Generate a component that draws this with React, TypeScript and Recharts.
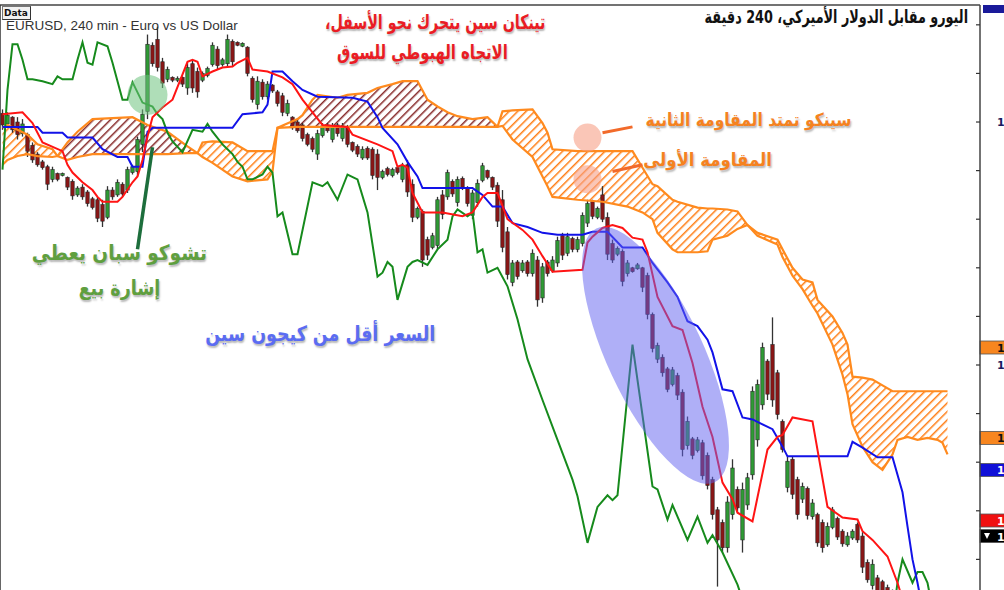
import React from 'react';
import { ComposedChart, Line, Area, Bar, XAxis, YAxis, ReferenceLine, ReferenceDot } from 'recharts';

// EURUSD 240 min. Prices in points (price * 10000).
const N_BARS = 196;
const Y_MIN = 13268.5;
const Y_MAX = 13870.4;
const Y_TICKS = [13300, 13350, 13400, 13450, 13500, 13550, 13600, 13650, 13700, 13750, 13800, 13850];
const Y_LABELED = [13500, 13750];

// [open, high, low, close] per bar
const CANDLES: number[][] = [
  [13759,13763,13742,13747],[13748,13760,13745,13757],[13755,13756,13739,13742],[13750,13755,13732,13737],
  [13738,13753,13735,13748],[13737,13739,13714,13720],[13726,13729,13708,13711],[13717,13719,13704,13706],
  [13709,13711,13701,13703],[13704,13706,13680,13686],[13691,13704,13688,13701],[13697,13698,13689,13691],
  [13695,13698,13694,13697],[13693,13694,13680,13683],[13689,13691,13670,13674],[13675,13684,13673,13682],
  [13683,13686,13670,13673],[13678,13680,13663,13666],[13671,13673,13660,13662],[13670,13673,13647,13651],
  [13665,13670,13642,13648],[13652,13684,13650,13680],[13680,13683,13670,13673],[13675,13691,13673,13688],
  [13686,13688,13673,13676],[13680,13704,13677,13701],[13698,13706,13696,13704],[13699,13735,13694,13732],
  [13727,13763,13719,13758],[13761,13840,13753,13830],[13829,13832,13807,13810],[13835,13848,13802,13806],
  [13812,13816,13785,13790],[13794,13807,13791,13804],[13796,13797,13791,13793],[13793,13797,13791,13795],
  [13796,13797,13786,13789],[13785,13811,13778,13806],[13810,13814,13780,13785],[13802,13806,13775,13781],
  [13793,13802,13791,13800],[13798,13807,13796,13805],[13809,13832,13807,13829],[13825,13828,13804,13808],
  [13809,13816,13807,13814],[13810,13840,13806,13835],[13833,13835,13807,13812],[13832,13833,13828,13829],
  [13828,13832,13827,13831],[13827,13828,13797,13800],[13795,13797,13770,13773],[13768,13797,13763,13792],
  [13791,13794,13773,13776],[13776,13792,13773,13789],[13788,13789,13780,13782],[13781,13783,13766,13769],
  [13777,13780,13756,13760],[13759,13773,13756,13769],[13755,13756,13742,13744],[13750,13753,13739,13741],
  [13747,13749,13730,13733],[13737,13739,13725,13727],[13733,13735,13719,13722],[13717,13742,13711,13738],
  [13736,13749,13734,13746],[13747,13749,13739,13741],[13732,13749,13729,13745],[13747,13749,13735,13738],
  [13733,13749,13730,13746],[13745,13747,13724,13727],[13729,13730,13719,13721],[13725,13727,13714,13717],
  [13713,13725,13711,13722],[13723,13725,13711,13713],[13722,13724,13691,13695],[13717,13722,13680,13693],
  [13693,13701,13691,13699],[13702,13704,13694,13696],[13695,13703,13693,13701],[13703,13704,13696,13698],
  [13691,13708,13688,13705],[13706,13711,13673,13678],[13686,13691,13647,13652],[13652,13663,13650,13661],
  [13658,13660,13601,13608],[13629,13632,13608,13613],[13621,13636,13619,13633],[13623,13673,13619,13670],
  [13675,13680,13650,13655],[13673,13701,13670,13698],[13689,13691,13673,13676],[13667,13694,13663,13691],
  [13692,13694,13680,13683],[13682,13684,13663,13666],[13654,13680,13650,13677],[13667,13691,13663,13687],
  [13690,13708,13688,13705],[13700,13701,13691,13693],[13693,13694,13680,13683],[13685,13688,13642,13648],
  [13670,13680,13616,13621],[13637,13642,13588,13593],[13585,13608,13581,13605],[13606,13608,13588,13591],
  [13597,13608,13595,13605],[13606,13608,13591,13594],[13594,13619,13591,13615],[13608,13612,13560,13567],
  [13569,13605,13564,13601],[13606,13608,13591,13594],[13597,13612,13595,13608],[13605,13632,13601,13628],
  [13633,13636,13608,13613],[13615,13636,13612,13632],[13630,13632,13616,13619],[13619,13632,13616,13629],
  [13625,13657,13622,13654],[13646,13670,13642,13666],[13668,13670,13650,13653],[13652,13663,13650,13661],
  [13675,13684,13647,13650],[13652,13657,13608,13614],[13625,13629,13605,13608],[13614,13622,13612,13620],
  [13617,13619,13581,13586],[13594,13608,13591,13605],[13600,13601,13595,13596],[13599,13605,13598,13603],
  [13600,13601,13575,13580],[13592,13595,13547,13552],[13552,13554,13513,13517],[13506,13523,13502,13520],
  [13508,13511,13488,13492],[13496,13498,13472,13475],[13480,13498,13478,13495],[13489,13492,13464,13469],
  [13472,13475,13406,13413],[13417,13447,13413,13442],[13424,13426,13403,13407],[13412,13426,13410,13423],
  [13420,13423,13382,13386],[13407,13410,13372,13376],[13382,13385,13341,13346],[13351,13354,13272,13320],
  [13338,13341,13307,13312],[13312,13365,13307,13359],[13346,13403,13341,13394],[13372,13375,13348,13353],
  [13320,13379,13307,13372],[13356,13389,13351,13384],[13387,13478,13382,13473],[13423,13485,13416,13480],
  [13459,13523,13454,13518],[13504,13506,13464,13470],[13521,13549,13457,13464],[13492,13495,13444,13449],
  [13442,13444,13410,13413],[13374,13406,13369,13401],[13403,13406,13362,13367],[13382,13385,13341,13346],
  [13362,13379,13358,13375],[13373,13375,13341,13345],[13344,13362,13341,13358],[13346,13348,13313,13317],
  [13338,13341,13307,13312],[13315,13338,13313,13334],[13333,13354,13331,13351],[13342,13344,13320,13323],
  [13329,13331,13313,13316],[13315,13328,13313,13324],[13322,13331,13320,13329],[13336,13338,13317,13320],
  [13324,13328,13286,13292],[13297,13300,13276,13279],[13273,13300,13269,13295],[13281,13284,13259,13262],
  [13277,13279,13259,13261],[13271,13274,13248,13252],[13267,13269,13238,13243],
];

// [bar index, value] vertices
const TENKAN: number[][] = [
  [0,13758],[4,13760],[6,13749],[8,13729],[12,13720],[13,13706],[14,13698],[16,13688],[18,13680],[19,13673],
  [20,13668],[23,13668],[24,13673],[26,13688],[27,13694],[28,13711],[29,13735],[30,13755],[32,13765],[34,13773],
  [37,13812],[38,13814],[39,13812],[40,13797],[42,13802],[44,13806],[46,13807],[47,13811],[49,13816],[50,13804],
  [53,13802],[56,13796],[58,13789],[60,13773],[62,13760],[64,13747],[69,13745],[70,13737],[75,13727],[78,13720],
  [79,13704],[80,13706],[81,13703],[82,13677],[84,13657],[88,13657],[92,13653],[94,13657],[96,13673],[97,13677],
  [99,13677],[101,13650],[104,13639],[106,13629],[108,13612],[110,13596],[116,13598],[117,13626],[118,13632],
  [120,13641],[122,13644],[124,13641],[126,13631],[128,13629],[129,13616],[131,13570],[134,13540],[136,13536],
  [138,13502],[140,13457],[142,13426],[144,13379],[146,13362],[147,13348],[150,13339],[151,13364],[153,13413],
  [155,13426],[156,13428],[158,13446],[162,13442],[165,13354],[168,13343],[171,13341],[172,13329],[174,13320],
  [177,13303],[179,13276],[180,13259],
];

const KIJUN: number[][] = [
  [0,13745],[7,13745],[8,13739],[12,13739],[13,13734],[18,13734],[20,13722],[23,13714],[25,13714],[26,13704],
  [28,13704],[29,13740],[30,13744],[46,13744],[48,13758],[52,13760],[53,13768],[54,13802],[56,13802],[58,13792],
  [60,13783],[63,13776],[70,13775],[73,13771],[75,13755],[76,13744],[79,13727],[81,13709],[83,13694],[84,13682],
  [94,13682],[96,13675],[98,13663],[100,13663],[102,13646],[105,13642],[108,13636],[111,13634],[116,13634],
  [118,13637],[121,13637],[124,13621],[128,13621],[130,13605],[133,13585],[135,13570],[137,13545],[139,13540],
  [141,13526],[142,13513],[144,13475],[146,13473],[148,13446],[150,13444],[154,13434],[156,13416],[157,13406],
  [169,13406],[170,13421],[172,13415],[175,13405],[178,13405],[180,13369],[181,13334],[182,13300],[183,13276],
  [184,13249],
];

const CHIKOU: number[][] = [
  [0,13701],[1,13783],[2,13830],[3,13830],[4,13814],[5,13794],[6,13794],[8,13792],[10,13789],[11,13797],
  [12,13794],[14,13794],[15,13814],[16,13832],[17,13811],[18,13809],[19,13832],[21,13828],[22,13811],[24,13773],
  [25,13773],[26,13791],[28,13770],[30,13766],[31,13758],[32,13753],[33,13739],[34,13730],[36,13719],[38,13742],
  [40,13740],[41,13748],[42,13740],[44,13727],[45,13722],[46,13717],[47,13709],[48,13704],[49,13691],[50,13691],
  [52,13696],[53,13704],[54,13698],[55,13653],[56,13657],[58,13614],[59,13614],[62,13688],[64,13684],[65,13688],
  [67,13670],[69,13696],[71,13691],[73,13657],[75,13591],[76,13595],[77,13606],[78,13601],[79,13567],[81,13601],
  [82,13606],[83,13608],[85,13603],[87,13619],[89,13629],[90,13653],[91,13660],[93,13653],[94,13657],[95,13616],
  [96,13619],[97,13595],[99,13600],[101,13581],[103,13547],[105,13506],[108,13464],[111,13423],[114,13382],
  [115,13365],[117,13317],[119,13354],[121,13366],[122,13361],[123,13366],[126,13521],[130,13375],[131,13372],
  [133,13341],[134,13356],[137,13320],[139,13344],[141,13317],[142,13325],[144,13307],[147,13274],[150,13228],
  [160,13208],[172,13218],[178,13238],[179,13276],[180,13300],[182,13276],[183,13287],[184,13287],[185,13276],
  [186,13249],
];

// [bar index, Senkou A, Senkou B]
const SENKOU: number[][] = [
  [0,13744,13706],[1,13747,13711],[3,13742,13715],[5,13737,13717],[7,13727,13715],[10,13722,13714],
  [11,13715,13715],[13,13711,13729],[15,13714,13740],[18,13717,13753],[26,13717,13755],[29,13717,13747],
  [33,13717,13740],[37,13718,13725],[39,13718,13718],[40,13729,13714],[42,13730,13708],[46,13729,13694],
  [49,13720,13689],[53,13720,13691],[54,13720,13699],[55,13744,13744],[59,13745,13753],[60,13745,13757],
  [62,13745,13773],[63,13745,13778],[67,13745,13775],[69,13745,13778],[73,13745,13780],[75,13745,13785],
  [78,13745,13789],[80,13745,13792],[83,13745,13792],[85,13745,13773],[87,13745,13766],[89,13745,13760],
  [91,13745,13756],[94,13745,13753],[97,13745,13755],[99,13745,13745],[100,13761,13746],[102,13762,13732],
  [106,13763,13714],[108,13749,13694],[109,13739,13684],[110,13722,13673],[115,13720,13670],[120,13720,13668],
  [125,13720,13663],[126,13720,13661],[128,13703,13657],[130,13686,13650],[131,13684,13636],[134,13670,13619],
  [135,13668,13616],[139,13662,13616],[141,13661,13617],[142,13661,13629],[145,13660,13633],[147,13658,13640],
  [149,13644,13644],[151,13636,13633],[155,13629,13624],[156,13619,13611],[158,13600,13592],[160,13588,13578],
  [162,13585,13561],[163,13567,13553],[166,13550,13521],[168,13533,13490],[169,13521,13470],[170,13488,13439],
  [172,13487,13416],[174,13485,13400],[176,13479,13392],[178,13473,13408],[179,13473,13423],[181,13473,13426],
  [183,13473,13423],[185,13473,13425],[187,13473,13423],[188,13473,13420],[189,13473,13408],
];

// price tags on the right scale: [value, fill, text colour, arrow]
const PRICE_TAGS: [number, string, string, boolean][] = [
  [13518, '#f7861f', '#111', false],
  [13425, '#f7861f', '#111', false],
  [13392, '#1010d8', '#fff', false],
  [13340, '#f01010', '#fff', false],
  [13324, '#000000', '#fff', true],
];

function buildRows() {
  const toMap = (arr: number[][]) => new Map(arr.map((r) => [r[0], r[1]]));
  const t = toMap(TENKAN), k = toMap(KIJUN), ch = toMap(CHIKOU);
  const sA = new Map(SENKOU.map((r) => [r[0], r[1]]));
  const sB = new Map(SENKOU.map((r) => [r[0], r[2]]));
  const rows: any[] = [];
  for (let i = 0; i < N_BARS; i++) {
    const c = CANDLES[i];
    const a = sA.get(i), b = sB.get(i);
    const has = a != null && b != null;
    rows.push({
      i,
      ohlc: c ?? null,
      candle: c ? [c[2], c[1]] : null,
      tenkan: t.get(i) ?? null,
      kijun: k.get(i) ?? null,
      chikou: ch.get(i) ?? null,
      spanA: has ? a : null,
      spanB: has ? b : null,
      cloudUp: has && (a as number) >= (b as number) ? [b, a] : null,
      cloudDown: has && (b as number) >= (a as number) ? [a, b] : null,
    });
  }
  return rows;
}
const ROWS = buildRows();

const CandleShape = (props: any) => {
  const { x, y, width, height, payload } = props;
  const ohlc = payload?.ohlc;
  if (!ohlc || y == null || height == null) return null;
  const [o, h, l, c] = ohlc;
  const top = Math.min(y, y + height);
  const hh = Math.abs(height);
  const k = h > l ? hh / (h - l) : 0;
  const yO = top + (h - o) * k;
  const yC = top + (h - c) * k;
  const cx = x + width / 2;
  const up = c >= o;
  const bt = Math.min(yO, yC);
  const bh = Math.max(1.2, Math.abs(yC - yO));
  return (
    <g>
      <line x1={cx} x2={cx} y1={top} y2={top + hh} stroke="#333" strokeWidth={1.3} />
      <rect x={cx - 1.7} y={bt} width={3.4} height={bh} fill={up ? '#2f9a35' : '#8a1616'} stroke="#262626" strokeWidth={0.6} />
    </g>
  );
};

const RightTick = (p: any) => {
  const { x, y, payload } = p;
  const v = payload?.value;
  return (
    <g>
      <line x1={x - 4} x2={x} y1={y} y2={y} stroke="#333" strokeWidth={1.2} />
      {Y_LABELED.includes(v) && (
        <text x={x + 17} y={y + 4} fontSize={11} fontWeight="bold" fill="#1a1a60" fontFamily="DejaVu Sans">
          {(v / 10000).toFixed(4)}
        </text>
      )}
    </g>
  );
};

const PriceTag = (p: any) => {
  const vb = p.viewBox || {};
  const x = (vb.x ?? 0) + (vb.width ?? 0);
  const y = vb.y ?? 0;
  return (
    <g>
      <rect x={x} y={y - 6.5} width={30} height={13} fill={p.fill} stroke="#555" strokeWidth={0.8} />
      {p.arrow && <polygon points={`${x + 4},${y - 3} ${x + 10},${y - 3} ${x + 7},${y + 3}`} fill="#fff" />}
      <text x={x + 17} y={y + 4.5} fontSize={11} fontWeight="bold" fill={p.tc} fontFamily="DejaVu Sans">
        {(p.value / 10000).toFixed(4)}
      </text>
    </g>
  );
};

const arabic: React.CSSProperties = {
  position: 'absolute',
  whiteSpace: 'nowrap',
  direction: 'rtl',
  fontFamily: '"DejaVu Sans", sans-serif',
  fontWeight: 'bold',
  lineHeight: 1,
  transformOrigin: 'right center',
  textShadow: '1px 2px 2px rgba(0,0,0,0.28)',
};

export default function App() {
  return (
    <div style={{ position: 'relative', width: 1004, height: 590, background: '#fff', overflow: 'hidden' }}>
      <style>{`body{margin:0;background:#fff}`}</style>
      <ComposedChart width={1004} height={590} data={ROWS} margin={{ top: 5, right: 0, bottom: 0, left: 0 }}>
        <defs>
          <pattern id="hatchOrange" width="6" height="6" patternUnits="userSpaceOnUse" patternTransform="rotate(45)">
            <rect x="0" y="0" width="1.5" height="6" fill="#ff7d14" />
          </pattern>
          <pattern id="hatchBrown" width="6" height="6" patternUnits="userSpaceOnUse" patternTransform="rotate(45)">
            <rect x="0" y="0" width="1.5" height="6" fill="#862828" />
          </pattern>
        </defs>
        <XAxis dataKey="i" hide type="category" />
        <YAxis
          orientation="right"
          width={24}
          domain={[Y_MIN, Y_MAX]}
          allowDataOverflow
          ticks={Y_TICKS}
          tickSize={0}
          tickMargin={0}
          tickLine={false}
          tick={<RightTick />}
          axisLine={{ stroke: '#444', strokeWidth: 1.5 }}
        />
        <YAxis
          yAxisId="l"
          orientation="left"
          mirror
          domain={[Y_MIN, Y_MAX]}
          allowDataOverflow
          ticks={Y_TICKS}
          tickSize={4}
          tick={false}
          tickLine={{ stroke: '#333' }}
          axisLine={{ stroke: '#333', strokeWidth: 1.5 }}
        />
        <ReferenceLine y={Y_MAX} stroke="#444" strokeWidth={1.5} />
        <Area dataKey="cloudUp" fill="url(#hatchOrange)" fillOpacity={1} stroke="none" connectNulls isAnimationActive={false} />
        <Area dataKey="cloudDown" fill="url(#hatchBrown)" fillOpacity={1} stroke="none" connectNulls isAnimationActive={false} />
        <Line dataKey="spanA" stroke="#ff8a1e" strokeWidth={2.2} dot={false} connectNulls isAnimationActive={false} />
        <Line dataKey="spanB" stroke="#ff8a1e" strokeWidth={2.2} dot={false} connectNulls isAnimationActive={false} />
        <Bar dataKey="candle" shape={CandleShape} isAnimationActive={false} />
        <Line dataKey="chikou" stroke="#168a1c" strokeWidth={2} dot={false} connectNulls isAnimationActive={false} />
        <Line dataKey="kijun" stroke="#1212e8" strokeWidth={2} dot={false} connectNulls isAnimationActive={false} />
        <Line dataKey="tenkan" stroke="#ff1414" strokeWidth={2} dot={false} connectNulls isAnimationActive={false} />
        <ReferenceDot x={29} y={13778} r={20} fill="rgba(110,195,125,0.55)" stroke="none" />
        <ReferenceDot x={117} y={13734} r={14} fill="rgba(247,160,135,0.6)" stroke="none" />
        <ReferenceDot x={117} y={13691} r={14} fill="rgba(247,160,135,0.6)" stroke="none" />
        <ReferenceDot
          x={131}
          y={13510}
          r={1}
          shape={(p: any) => (
            <ellipse cx={p.cx - 2} cy={p.cy} rx={140} ry={48} transform={`rotate(65 ${p.cx - 2} ${p.cy})`} fill="rgba(95,95,240,0.5)" />
          )}
        />
        <ReferenceLine segment={[{ x: 27, y: 13619 }, { x: 30, y: 13724 }]} stroke="#1d6e3c" strokeWidth={3.5} />
        <ReferenceLine segment={[{ x: 120, y: 13739 }, { x: 126, y: 13745 }]} stroke="#f26a2a" strokeWidth={3} />
        <ReferenceLine segment={[{ x: 122, y: 13699 }, { x: 128, y: 13706 }]} stroke="#f26a2a" strokeWidth={3} />
        {PRICE_TAGS.map(([v, fill, tc, arrow]) => (
          <ReferenceLine key={v} y={v} stroke="none" label={<PriceTag value={v} fill={fill} tc={tc} arrow={arrow} />} />
        ))}
      </ComposedChart>

      <div style={{ position: 'absolute', left: 983, top: 5, width: 21, height: 8, background: '#1a1a9a' }} />
      <div
        style={{
          position: 'absolute', left: 2, top: 6, width: 26, height: 12, border: '1px solid #777',
          borderRightColor: '#333', borderBottomColor: '#333', background: '#f2f2f2',
          fontFamily: '"DejaVu Sans", sans-serif', fontSize: 9, fontWeight: 'bold', lineHeight: '12px', paddingLeft: 1, color: '#111',
        }}
      >
        Data
      </div>
      <div style={{ position: 'absolute', left: 6, top: 18, fontFamily: '"Liberation Sans", Arial, sans-serif', fontSize: 13.5, color: '#333', whiteSpace: 'nowrap' }}>
        EURUSD, 240 min - Euro vs US Dollar
      </div>

      <div style={{ ...arabic, right: 459, top: 12, fontSize: 20, color: '#ea1c24', transform: 'scaleX(0.71)' }}>تينكان سين يتحرك نحو الأسفل،</div>
      <div style={{ ...arabic, right: 496, top: 42, fontSize: 20, color: '#ea1c24', transform: 'scaleX(0.74)' }}>الاتجاه الهبوطي للسوق</div>
      <div style={{ ...arabic, right: 36, top: 8, fontSize: 18, color: '#111', textShadow: 'none', transform: 'scaleX(0.71)' }}>اليورو مقابل الدولار الأميركي، 240 دقيقة</div>
      <div style={{ ...arabic, right: 152, top: 111, fontSize: 18, color: '#f5821f', transform: 'scaleX(0.86)' }}>سينكو تمتد المقاومة الثانية</div>
      <div style={{ ...arabic, right: 232, top: 151, fontSize: 18, color: '#f5821f', transform: 'scaleX(0.92)' }}>المقاومة الأولى</div>
      <div style={{ ...arabic, right: 797, top: 243, fontSize: 21, color: '#5f9f3f', transform: 'scaleX(0.88)' }}>تشوكو سبان يعطي</div>
      <div style={{ ...arabic, right: 844, top: 278, fontSize: 21, color: '#5f9f3f', transform: 'scaleX(0.83)' }}>إشارة بيع</div>
      <div style={{ ...arabic, right: 569, top: 324, fontSize: 21, color: '#5b6cf2', transform: 'scaleX(0.83)' }}>السعر أقل من كيجون سين</div>
    </div>
  );
}
